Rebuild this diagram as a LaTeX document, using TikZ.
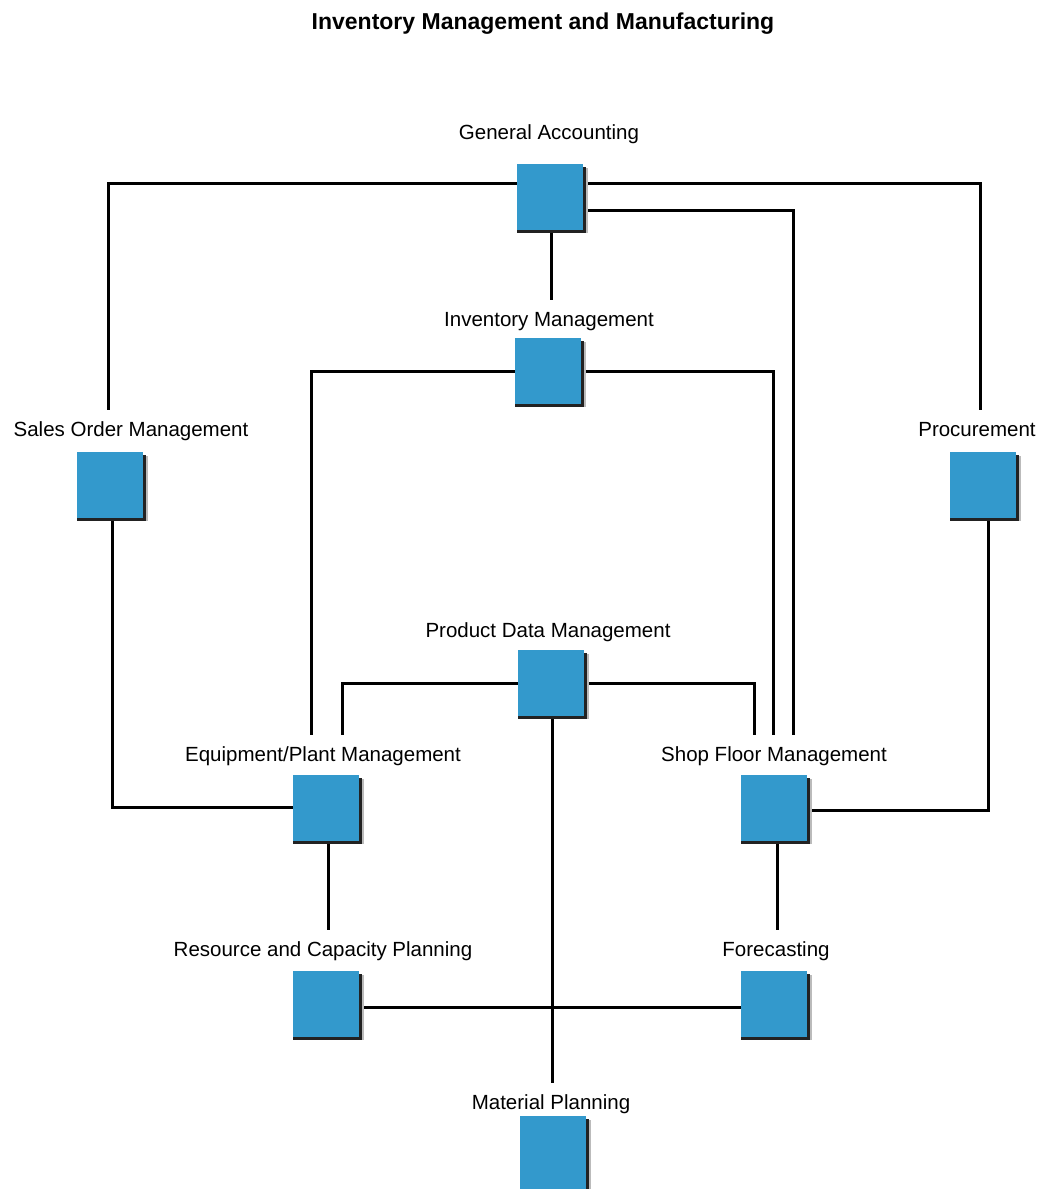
\documentclass[tikz,border=0pt]{standalone}
\usepackage{fontspec}
\setmainfont{Liberation Sans}
\usetikzlibrary{calc}
\definecolor{modblue}{HTML}{3399CC}
\definecolor{shadedark}{HTML}{222222}
\definecolor{shadelight}{HTML}{BBBBBB}
\begin{document}
\begin{tikzpicture}[x=1pt,y=-1pt,
  module/.style={fill=modblue,minimum width=66pt,minimum height=66pt,inner sep=0pt,outer sep=0pt},
  caption/.style={font=\fontsize{20.5}{24}\selectfont,text height=12pt,text depth=4pt,inner xsep=0pt,inner ysep=15pt},
  link/.style={line width=3pt,line cap=rect}]
\useasboundingbox (0,0) rectangle (1042,1189);
\clip (0,0) rectangle (1042,1189);

% title
\node[font=\fontsize{23}{27}\selectfont\bfseries] (title) at (543,24) {Inventory Management and Manufacturing};

% captions
\node[caption] (gaL)  at (549,135)  {General Accounting};
\node[caption] (imL)  at (549,322)  {Inventory Management};
\node[caption] (soL)  at (131,432)  {Sales Order Management};
\node[caption] (prL)  at (977,432)  {Procurement};
\node[caption] (pdmL) at (548,633)  {Product Data Management};
\node[caption] (epL)  at (323,757)  {Equipment/Plant Management};
\node[caption] (sfL)  at (774,757)  {Shop Floor Management};
\node[caption] (rcL)  at (323,952)  {Resource and Capacity Planning};
\node[caption] (fcL)  at (776,952)  {Forecasting};
\node[caption] (mpL)  at (551,1105) {Material Planning};

% module positions
\coordinate (gaP)  at (550,197);
\coordinate (imP)  at (548,371);
\coordinate (soP)  at (110,485);
\coordinate (prP)  at (983,485);
\coordinate (pdmP) at (551,683);
\coordinate (epP)  at (326,808);
\coordinate (sfP)  at (774,808);
\coordinate (rcP)  at (326,1004);
\coordinate (fcP)  at (774,1004);
\coordinate (mpP)  at (553,1149);

% connectors
\draw[link] (gaP |- 0,183) -- (108,183) -- (108,0 |- soL.north);
\draw[link] (gaP |- 0,183) -- (980,183) -- (980,0 |- prL.north);
\draw[link] (gaP |- 0,210) -- (793,210) -- (793,0 |- sfL.north);
\draw[link] (551,197) -- (551,0 |- imL.north);
\draw[link] (imP) -- (311,371) -- (311,0 |- epL.north);
\draw[link] (imP) -- (773,371) -- (773,0 |- sfL.north);
\draw[link] (pdmP) -- (342,683) -- (342,0 |- epL.north);
\draw[link] (pdmP) -- (754,683) -- (754,0 |- sfL.north);
\draw[link] (552,683) -- (552,0 |- mpL.north);
\draw[link] (112,485) -- (112,807) -- (epP |- 0,807);
\draw[link] (988,485) -- (988,810) -- (sfP |- 0,810);
\draw[link] (328,808) -- (328,0 |- rcL.north);
\draw[link] (777,808) -- (777,0 |- fcL.north);
\draw[link] (rcP |- 0,1007) -- (fcP |- 0,1007);

% modules
\foreach \m in {ga,im,so,pr,pdm,ep,sf,rc,fc}{
  \node[module] (\m) at (\m P) {};
  \fill[shadelight] ($(\m.north east)+(3,4)$) rectangle ($(\m.south east)+(5,3)$);
  \fill[shadedark] ($(\m.north east)+(0,3)$) rectangle ($(\m.south east)+(3,3)$);
  \fill[shadedark] ($(\m.south west)$) rectangle ($(\m.south east)+(0,3)$);
}
% the last module runs past the lower edge
\node[module,minimum height=80pt] (mp) at ($(mpP)+(0,7)$) {};
\fill[shadelight] ($(mp.north east)+(3,4)$) rectangle ($(mp.south east)+(5,0)$);
\fill[shadedark] ($(mp.north east)+(0,3)$) rectangle ($(mp.south east)+(3,0)$);
\end{tikzpicture}
\end{document}
